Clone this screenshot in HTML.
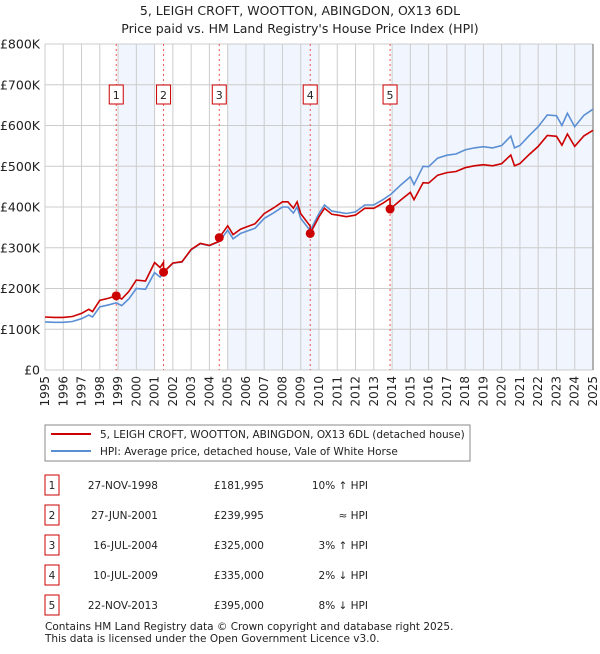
<!DOCTYPE html>
<html><head><meta charset="utf-8"><style>
body{margin:0;background:#fff;font-family:"DejaVu Sans","Liberation Sans",sans-serif;}
svg text{font-family:"DejaVu Sans","Liberation Sans",sans-serif;}
</style></head><body>
<svg id="c" width="600" height="650" xmlns="http://www.w3.org/2000/svg">
<text x="300" y="15" text-anchor="middle" font-size="12.5" fill="#222">5, LEIGH CROFT, WOOTTON, ABINGDON, OX13 6DL</text>
<text x="300" y="33" text-anchor="middle" font-size="12.5" fill="#222">Price paid vs. HM Land Registry's House Price Index (HPI)</text>
<g id="plot"></g>
<g>
<rect x="45" y="425" width="425" height="36" fill="#fff" stroke="#888"/>
<line x1="51" y1="434" x2="91" y2="434" stroke="#cc0000" stroke-width="2"/>
<text x="100" y="438" font-size="10.5" fill="#222">5, LEIGH CROFT, WOOTTON, ABINGDON, OX13 6DL (detached house)</text>
<line x1="51" y1="451" x2="91" y2="451" stroke="#5b8fd4" stroke-width="2"/>
<text x="100" y="455" font-size="10.5" fill="#222">HPI: Average price, detached house, Vale of White Horse</text>
</g>
<g id="table"></g>
<text x="45" y="630" font-size="10.5" fill="#222">Contains HM Land Registry data © Crown copyright and database right 2025.</text>
<text x="45" y="642" font-size="10.5" fill="#222">This data is licensed under the Open Government Licence v3.0.</text>
</svg>
<script>
const hpiYears=[1995,1995.5,1996,1996.5,1997,1997.4,1997.6,1998,1998.5,1998.9,1999.2,1999.6,2000,2000.5,2001,2001.3,2001.5,2002,2002.5,2003,2003.5,2004,2004.54,2005,2005.3,2005.7,2006,2006.5,2007,2007.5,2008,2008.3,2008.6,2008.8,2009,2009.52,2010,2010.3,2010.7,2011,2011.5,2012,2012.5,2013,2013.5,2013.9,2014,2014.5,2015,2015.2,2015.7,2016,2016.5,2017,2017.5,2018,2018.5,2019,2019.5,2020,2020.5,2020.7,2021,2021.5,2022,2022.5,2023,2023.3,2023.6,2024,2024.5,2025];
const hpiValues=[118,117,117,119,126,135,130,155,160,165,158,175,200,198,239,228,240,262,265,295,310,305,315,343,322,335,340,348,372,385,400,400,385,400,372,342,384,405,390,388,384,388,405,405,418,430,434,455,474,455,500,499,520,527,530,540,545,548,545,551,574,545,551,575,597,626,624,600,630,597,625,640];
const saleYears=[1998.9,2001.49,2004.54,2009.52,2013.89];
const salePrices=[181.995,239.995,325,335,395];
const saleDates=["27-NOV-1998","27-JUN-2001","16-JUL-2004","10-JUL-2009","22-NOV-2013"];
const salePriceLabels=["£181,995","£239,995","£325,000","£335,000","£395,000"];
const saleHpiLabels=["10% ↑ HPI","≈ HPI","3% ↑ HPI","2% ↓ HPI","8% ↓ HPI"];
const shadeBands=[[1999,2001],[2005,2010],[2014,2025]];
const yTicks=[0,100,200,300,400,500,600,700,800];
const yTickLabels=["£0","£100K","£200K","£300K","£400K","£500K","£600K","£700K","£800K"];

const NS="http://www.w3.org/2000/svg";
const X0=45,X1=593,Y0=370,Y1=44;
const xs=y=>X0+(y-1995)/(2025-1995)*(X1-X0);
const ys=v=>Y0-v/800*(Y0-Y1);
const plot=document.getElementById('plot');
function mk(tag,at,parent){const e=document.createElementNS(NS,tag);for(const k in at)e.setAttribute(k,at[k]);(parent||plot).appendChild(e);return e;}
function hpiAt(t){for(let i=0;i<hpiYears.length-1;i++){if(t<=hpiYears[i+1]){const f=(t-hpiYears[i])/(hpiYears[i+1]-hpiYears[i]);return hpiValues[i]+f*(hpiValues[i+1]-hpiValues[i]);}}return hpiValues[hpiValues.length-1];}

let e=mk('rect',{x:X0,y:Y1,width:X1-X0,height:Y0-Y1,fill:'#fff'});

shadeBands.forEach(b=>{const r=mk('rect',{x:xs(b[0]),y:Y1,width:xs(b[1])-xs(b[0]),height:Y0-Y1,fill:'#f1f5fd'});

});
for(let y=1995;y<=2025;y++){const l=mk('line',{x1:xs(y),x2:xs(y),y1:Y1,y2:Y0,stroke:'#cccccc','stroke-width':1});


const t=mk('text',{x:0,y:0,'font-size':12,fill:'#222','text-anchor':'end',transform:`translate(${xs(y)+4},${Y0+6}) rotate(-90)`});t.textContent=y;

}
yTicks.forEach((v,i)=>{const l=mk('line',{x1:X0,x2:X1,y1:ys(v),y2:ys(v),stroke:'#cccccc','stroke-width':1});


const t=mk('text',{x:40,y:ys(v)+4.5,'font-size':12.5,fill:'#222','text-anchor':'end'});t.textContent=yTickLabels[i];

});
e=mk('line',{x1:X1,x2:X1,y1:Y1,y2:Y0,stroke:'#999','stroke-width':1.5});

saleYears.forEach((t,i)=>{const l=mk('line',{x1:xs(t),x2:xs(t),y1:Y1,y2:Y0,stroke:'#ee5555','stroke-width':1,'stroke-dasharray':'2,3'});


const r=mk('rect',{x:xs(t)-7,y:85,width:14,height:19,fill:'#fff',stroke:'#cc0000'});


const tx=mk('text',{x:xs(t),y:99,'font-size':11,'text-anchor':'middle',fill:'#222'});tx.textContent=i+1;

});
let d=hpiYears.map((t,i)=>(i?'L':'M')+xs(t).toFixed(1)+','+ys(hpiValues[i]).toFixed(1)).join('');
e=mk('path',{d:d,fill:'none',stroke:'#5b8fd4','stroke-width':1.6});

const ratio=t=>{let k=0;for(let i=0;i<saleYears.length;i++)if(t>=saleYears[i])k=i;return salePrices[k]/hpiAt(saleYears[k]);};
const pts=[];hpiYears.forEach((t,i)=>{pts.push([t,hpiValues[i]*ratio(t)]);});
saleYears.forEach((t,i)=>{pts.push([t-0.001,hpiAt(t)*ratio(t-0.01)]);pts.push([t,salePrices[i]]);});
pts.sort((a,b)=>a[0]-b[0]);
d=pts.map((p,i)=>(i?'L':'M')+xs(p[0]).toFixed(1)+','+ys(p[1]).toFixed(1)).join('');
e=mk('path',{d:d,fill:'none',stroke:'#cc0000','stroke-width':1.6});

saleYears.forEach((t,i)=>{const c=mk('circle',{cx:xs(t),cy:ys(salePrices[i]),r:4.5,fill:'#cc0000'});

});
const tb=document.getElementById('table');
saleDates.forEach((s,i)=>{const yy=483+i*30;
const r=mk('rect',{x:45,y:yy-8,width:14,height:20,fill:'#fff',stroke:'#cc0000'},tb);


let t=mk('text',{x:52,y:yy+6,'font-size':10.5,'text-anchor':'middle',fill:'#222'},tb);t.textContent=i+1;


t=mk('text',{x:158,y:yy+6,'font-size':10.5,'text-anchor':'end',fill:'#222'},tb);t.textContent=s;


t=mk('text',{x:264,y:yy+6,'font-size':10.5,'text-anchor':'end',fill:'#222'},tb);t.textContent=salePriceLabels[i];


t=mk('text',{x:368,y:yy+6,'font-size':10.5,'text-anchor':'end',fill:'#222'},tb);t.textContent=saleHpiLabels[i];

});
</script>
</body></html>
